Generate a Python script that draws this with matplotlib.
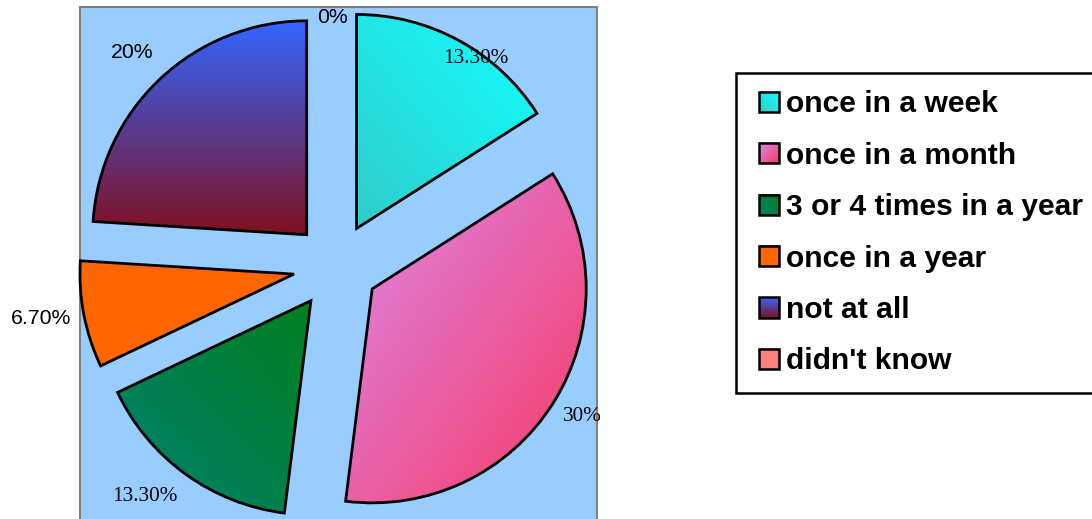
import numpy as np
import matplotlib
matplotlib.use('Agg')
import matplotlib.pyplot as plt
from matplotlib.colors import to_rgb
from matplotlib.legend_handler import HandlerBase
from matplotlib.image import BboxImage
from matplotlib.transforms import Bbox, TransformedBbox
from matplotlib.patches import Rectangle

# ---------------- data ----------------
categories = ["once in a week", "once in a month", "3 or 4 times in a year",
              "once in a year", "not at all", "didn't know"]
values = [13.3, 30, 13.3, 6.7, 20, 0]
value_labels = ["13.30%", "30%", "13.30%", "6.70%", "20%", "0%"]

# ---------------- style ----------------
grad_start = ["#33CCCC", "#DA8AEA", "#008070", "#FF6600", "#3366FF", "#FF8080"]
grad_end = ["#10FFFF", "#F83864", "#008020", "#FF6600", "#801020", "#FF8080"]
grad_dir = [(1, 1), (1, -1), (1, 1), (0, 0), (0, -1), (0, 0)]
label_fonts = ["Liberation Serif", "Liberation Serif", "Liberation Serif",
               "Liberation Sans", "Liberation Sans", "Liberation Sans"]
label_dist = [1.17, 1.35, 1.40, 1.40, 1.38, 1.16]
label_nudge = [-5.3, 0.8, -3.9, -0.9, 0.4, 0.7]
BG = "#99CCFF"


def grad_array(c0, c1, d, n=200):
    yy, xx = np.mgrid[0:1:n * 1j, 0:1:n * 1j]
    dx, dy = d
    if dx == 0 and dy == 0:
        t = np.zeros_like(xx)
    else:
        t = (xx - 0.5) * dx + (yy - 0.5) * dy
        t = (t - t.min()) / (t.max() - t.min())
    a = np.array(to_rgb(c0))
    b = np.array(to_rgb(c1))
    return a * (1 - t)[..., None] + b * t[..., None]


class GradHandler(HandlerBase):
    def __init__(self, c0, c1, d):
        super().__init__()
        self.c0, self.c1, self.d = c0, c1, d

    def create_artists(self, legend, orig_handle, xdescent, ydescent,
                       width, height, fontsize, trans):
        x0 = -xdescent + width - height
        y0 = -ydescent
        bb = TransformedBbox(Bbox.from_bounds(x0, y0, height, height), trans)
        img = BboxImage(bb, interpolation='bilinear', origin='lower')
        img.set_data(grad_array(self.c0, self.c1, self.d, n=20))
        rect = Rectangle((x0, y0), height, height, facecolor='none',
                         edgecolor='black', linewidth=1.8, transform=trans)
        return [img, rect]


W, H = 1092, 519
fig = plt.figure(figsize=(W / 100, H / 100), dpi=100)
fig.patch.set_facecolor('white')

# plot area (extends below the figure bottom)
ax_left, ax_right, ax_top, ax_bottom = 80, 597, 7, 530
ax = fig.add_axes([ax_left / W, (H - ax_bottom) / H,
                   (ax_right - ax_left) / W, (ax_bottom - ax_top) / H])

wedges, _ = ax.pie(values, startangle=90, counterclock=False,
                   explode=[0.2] * len(values), radius=1,
                   wedgeprops=dict(edgecolor='black', linewidth=2.0,
                                   facecolor='none'))

for i, w in enumerate(wedges):
    w.set_zorder(3)
    if values[i] == 0:
        w.set_visible(False)
        continue
    verts = w.get_path().vertices
    x0, y0 = verts.min(axis=0)
    x1, y1 = verts.max(axis=0)
    im = ax.imshow(grad_array(grad_start[i], grad_end[i], grad_dir[i]),
                   extent=(x0, x1, y0, y1), origin='lower', aspect='auto',
                   interpolation='bilinear', zorder=2)
    im.set_clip_path(w)

# axis geometry: pie centre at (336, 266) px, radius 214 px
cx, cy, rp = 336, 266, 214
ax.set_xlim(-(cx - ax_left) / rp, (ax_right - cx) / rp)
ax.set_ylim(-(ax_bottom - cy) / rp, (cy - ax_top) / rp)
ax.set_aspect('auto')
ax.set_frame_on(True)
ax.set_facecolor(BG)
for s in ax.spines.values():
    s.set_color('#808080')
    s.set_linewidth(1.5)
ax.set_xticks([])
ax.set_yticks([])

# value labels
total = sum(values)
cum = 0.0
for i, v in enumerate(values):
    start = 90 - 360 * cum / total
    mid = start - 180 * v / total
    cum += v
    ang = np.deg2rad(mid + label_nudge[i])
    ax.text(label_dist[i] * np.cos(ang), label_dist[i] * np.sin(ang),
            value_labels[i], ha='center', va='center', fontsize=15.3,
            family=label_fonts[i], color='black', clip_on=False, zorder=5)

# legend
handles = [Rectangle((0, 0), 1, 1) for _ in categories]
hmap = {h: GradHandler(grad_start[i], grad_end[i], grad_dir[i])
        for i, h in enumerate(handles)}
leg = fig.legend(handles, categories, handler_map=hmap, loc='upper left',
                 bbox_to_anchor=(736 / W, 1 - 73 / H),
                 bbox_transform=fig.transFigure, borderaxespad=0,
                 frameon=True, fancybox=False, edgecolor='black',
                 framealpha=1, facecolor='white',
                 prop=dict(family='Liberation Sans', weight='bold', size=21.6),
                 handlelength=0.86, handleheight=0.66, handletextpad=0.23,
                 labelspacing=0.78, borderpad=0.58)
leg.get_frame().set_linewidth(1.8)

fig.savefig('out.png', dpi=100)
